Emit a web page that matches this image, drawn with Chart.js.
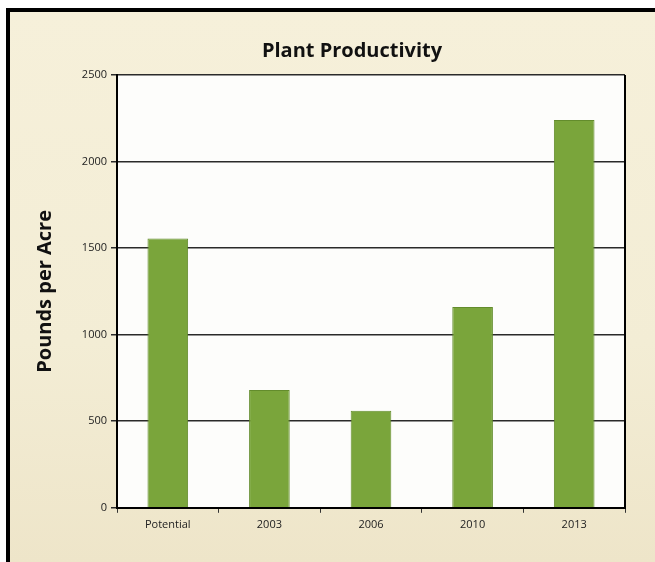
<!DOCTYPE html>
<html>
<head>
<meta charset="utf-8">
<script src="https://cdn.jsdelivr.net/npm/chart.js@4"></script>
<style>
  html, body { margin: 0; padding: 0; background: #fff; overflow: hidden; }
  #frame {
    position: absolute; left: 6px; top: 8px; width: 645px; height: 550px;
    border-left: 4px solid #000; border-top: 4px solid #000;
    background: linear-gradient(180deg, #f6f0da 0%, #f3edd5 60%, #eee5c9 100%);
  }
  #wrap { position: absolute; left: 0; top: 0; width: 655px; height: 562px; }
</style>
</head>
<body>
<div id="frame"></div>
<div id="wrap"><canvas id="plantChart"></canvas></div>
<script>
const chartTitle = 'Plant Productivity';
const categories = ['Potential', '2003', '2006', '2010', '2013'];
const poundsPerAcre = [1555, 680, 560, 1160, 2240];
const yTicks = [0, 500, 1000, 1500, 2000, 2500];

// putih di dalam area plot + garis tepi kanan
const plotBackground = {
    id: 'plotBackground',
    beforeDraw(chart) {
        const { ctx, chartArea } = chart;
        ctx.save();
        ctx.fillStyle = '#fdfdfb';
        ctx.fillRect(chartArea.left, chartArea.top, chartArea.right - chartArea.left, chartArea.bottom - chartArea.top);
        ctx.restore();
    },
    afterDraw(chart) {
        const { ctx, chartArea } = chart;
        ctx.save();
        ctx.strokeStyle = '#000';
        ctx.lineWidth = 2;
        ctx.beginPath();
        ctx.moveTo(chartArea.right, chartArea.top);
        ctx.lineTo(chartArea.right, chartArea.bottom + 1);
        ctx.stroke();
        ctx.restore();
    }
};

// judul digeser sedikit ke kiri dari tengah area plot, seperti aslinya
const offsetTitle = {
    id: 'offsetTitle',
    afterDraw(chart, args, opts) {
        const { ctx, chartArea } = chart;
        ctx.save();
        ctx.font = 'bold 20px "Open Sans"';
        ctx.fillStyle = '#111';
        ctx.textAlign = 'center';
        ctx.textBaseline = 'middle';
        ctx.fillText(opts.text, (chartArea.left + chartArea.right) / 2 - 19, chartArea.top - 24);
        ctx.restore();
    }
};

const canvas = document.getElementById('plantChart');

new Chart(canvas, {
    type: 'bar',
    data: {
        labels: categories,
        datasets: [{
            label: 'Pounds per Acre',
            data: poundsPerAcre,
            backgroundColor: '#7aa53b',
            borderColor: '#638c2c',
            borderWidth: 1,
            categoryPercentage: 1,
            barPercentage: 0.4
        }]
    },
    options: {
        responsive: true,
        maintainAspectRatio: false,
        animation: false,
        layout: { padding: { left: 0, right: 30, top: 75, bottom: 26 } },
        plugins: {
            legend: { display: false },
            tooltip: { enabled: false },
            title: { display: false },
            offsetTitle: { text: chartTitle }
        },
        scales: {
            x: {
                grid: { display: true, drawOnChartArea: false, drawTicks: true, tickLength: 5, color: '#333', lineWidth: 1 },
                border: { display: true, color: '#000', width: 2 },
                ticks: { color: '#222', font: { family: 'Open Sans', size: 11 }, padding: 5 }
            },
            y: {
                min: 0,
                max: 2500,
                afterBuildTicks(scale) {
                    scale.ticks = yTicks.map(v => ({ value: v }));
                },
                afterFit(scale) {
                    scale.width = 117;
                },
                grid: { color: '#2a2a2a', lineWidth: 1.5, drawTicks: true, tickLength: 6 },
                border: { display: true, color: '#000', width: 2 },
                ticks: {
                    color: '#222',
                    font: { family: 'Open Sans', size: 11 },
                    padding: 4,
                    callback: (value) => String(value)
                },
                title: {
                    display: true,
                    text: 'Pounds per Acre',
                    color: '#111',
                    font: { family: 'Open Sans', size: 20, weight: 'bold' },
                    padding: { top: 33, bottom: 0 }
                }
            }
        }
    },
    plugins: [plotBackground, offsetTitle]
});
</script>
</body>
</html>
